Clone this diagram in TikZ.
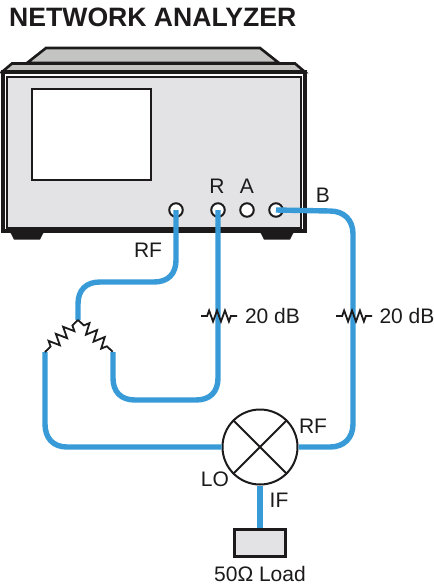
\documentclass[tikz,border=0pt]{standalone}
\usepackage{fontspec}
\setmainfont{Liberation Sans}
\definecolor{cablecol}{HTML}{389BD8}
\definecolor{inkcol}{HTML}{1C1A1A}
\definecolor{panelcol}{HTML}{E3E3E5}
\definecolor{topcol}{HTML}{C4C5C3}
\tikzset{
  cable/.style={draw=cablecol,line width=5.4pt},
  ink/.style={draw=inkcol,line join=miter},
  lbl/.style={inner sep=0pt,text=inkcol,font=\fontsize{21}{21}\selectfont},
  portring/.style={circle,draw=inkcol,line width=2pt,fill=white,minimum size=13.5pt,inner sep=0pt},
  pics/zig/.style={code={
    \pgfmathsetmacro{\zs}{#1*0.11}
    \pgfmathsetmacro{\zh}{#1*0.055}
    \draw[inkcol,line width=1.8pt,line join=miter] (0,0) -- (#1*0.17,0) -- ++(\zh,-5.5) -- ++(\zs,11) -- ++(\zs,-11) -- ++(\zs,11) -- ++(\zs,-11) -- ++(\zs,11) -- ++(\zh,-5.5) -- (#1,0);
  }}
}
\begin{document}
\begin{tikzpicture}[x=1pt,y=-1pt]
\useasboundingbox (0,0) rectangle (434,587);
% title
\node[inner sep=0pt,anchor=base west,text=inkcol,font=\fontsize{26.6}{27}\selectfont\bfseries] (title) at (9,26.5) {NETWORK ANALYZER};
% feet
\fill[inkcol] (8,228) -- (46,228) -- (40,239.5) -- (14,239.5) -- cycle;
\fill[inkcol] (258,228) -- (296,228) -- (290,239.5) -- (264,239.5) -- cycle;
% top of instrument
\draw[ink,fill=topcol,line width=2.6pt] (27,63) -- (46,48) -- (260,48) -- (279,63) -- cycle;
\draw[ink,fill=topcol,line width=2.6pt] (2,72) -- (12,63.5) -- (295,63.5) -- (305,72) -- cycle;
% body
\draw[ink,fill=white,line width=3.6pt] (3,72) rectangle (305,231);
\draw[ink,fill=panelcol,line width=1.8pt] (7,77) rectangle (301,228);
\draw[ink,fill=white,line width=1.8pt] (32,89) rectangle (151,180);
% ports
\node[portring] (pRF) at (176,210) {};
\node[portring] (pR) at (218,210) {};
\node[portring] (pA) at (247,210) {};
\node[portring] (pB) at (276,210) {};
\node[lbl] (lR) at (217,186) {R};
\node[lbl] (lA) at (247,186) {A};
\node[lbl] (lB) at (323,195) {B};
\node[lbl] (lRF) at (148,250) {RF};
% splitter nodes and mixer
\coordinate (apex) at (78,320);
\coordinate (splitL) at (45,352);
\coordinate (splitR) at (113,352);
\node[circle,draw=inkcol,line width=2pt,fill=white,minimum size=75pt,inner sep=0pt] (mix) at (260,447) {};
\draw[inkcol,line width=1.8pt] (mix.north west) -- (mix.south east) (mix.north east) -- (mix.south west);
\node[rectangle,draw=inkcol,line width=3.2pt,fill=panelcol,minimum width=51pt,minimum height=27pt,inner sep=0pt] (load) at (260,543) {};
% cables
\draw[cable] (pRF.center) -- (176,260) .. controls (176,274) and (168,282) .. (154,282) -- (100,282) .. controls (86,282) and (78,290) .. (78,304) -- (apex);
\draw[cable] (pR.center) -- (218,378) .. controls (218,392) and (210,400) .. (196,400) -- (135,400) .. controls (121,400) and (113,392) .. (113,378) -- (splitR);
\draw[cable] (splitL) -- (45,424) .. controls (45,438) and (53,447) .. (67,447) -- (mix.west);
\draw[cable] (pB.center) -- (330,211) .. controls (344,211) and (353,220) .. (353,234) -- (353,424) .. controls (353,438) and (344,447) .. (330,447) -- (mix.east);
\draw[cable] (mix.south) -- (load.north);
% splitter resistors
\pic[rotate=224.1] at (apex) {zig=46};
\pic[rotate=-42.4] at (apex) {zig=47};
% attenuators
\pic at (201,316) {zig=36};
\pic at (336,316) {zig=36};
% labels
\node[lbl] (att1) at (272.5,316) {20 dB};
\node[lbl] (att2) at (407,316) {20 dB};
\node[lbl] (lRF2) at (313,426) {RF};
\node[lbl] (lLO) at (215,479) {LO};
\node[lbl] (lIF) at (279,500) {IF};
\node[lbl] (lLoad) at (260,574) {50Ω Load};
\end{tikzpicture}
\end{document}
